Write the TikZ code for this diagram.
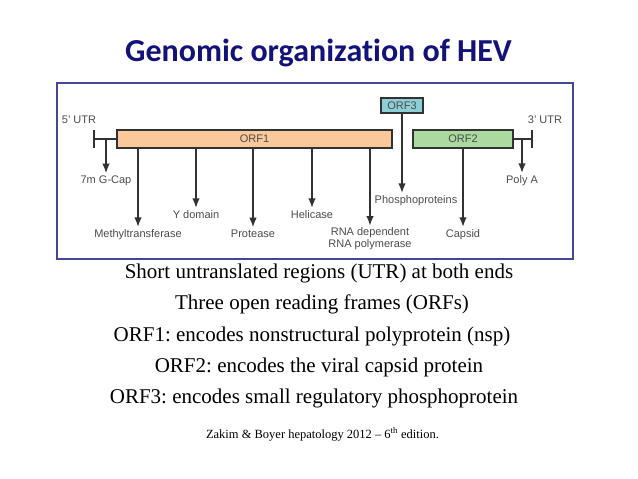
\documentclass[tikz,border=0pt]{standalone}
\usepackage{fontspec}
\setmainfont{Liberation Serif}
\newfontfamily\titlefont[Ligatures=NoCommon]{Carlito}
\newfontfamily\labelfont{Liberation Sans}
\usetikzlibrary{arrows.meta}
\definecolor{titleblue}{RGB}{18,18,120}
\definecolor{framebl}{RGB}{70,70,150}
\definecolor{orfone}{RGB}{250,200,155}
\definecolor{orftwo}{RGB}{172,217,160}
\definecolor{orfthree}{RGB}{142,207,214}
\definecolor{inkgray}{RGB}{50,50,50}
\definecolor{labelgray}{RGB}{75,75,75}
\frenchspacing
\begin{document}
\begin{tikzpicture}[x=1pt, y=-1pt,
  orfbox/.style={draw=inkgray, line width=1.1pt, inner sep=0pt, font=\labelfont\fontsize{11}{12}\selectfont, text=labelgray},
  gene/.style={font=\labelfont\fontsize{11}{10}\selectfont, text=labelgray, inner sep=2pt, anchor=base, align=center},
  arr/.style={-{Latex[length=9.5pt,width=7.5pt]}, line width=1.4pt, draw=inkgray},
  utr/.style={line width=1.3pt, draw=inkgray},
  bodytext/.style={font=\fontsize{21}{25}\selectfont, anchor=base}]
\useasboundingbox (0,0) rectangle (638,479);
\node[font=\titlefont\bfseries\fontsize{32}{36}\selectfont, text=titleblue, anchor=base] (title) at (318.5,61) {Genomic organization of HEV};
\draw[framebl, line width=1.3pt] (57,83) rectangle (573,259);
% genome
\node[orfbox, fill=orfone, minimum width=275pt, minimum height=18pt] (orf1) at (254.5,139) {ORF1};
\node[orfbox, fill=orftwo, minimum width=100pt, minimum height=18pt] (orf2) at (463,139) {ORF2};
\node[orfbox, fill=orfthree, minimum width=42pt, minimum height=15pt] (orf3) at (402,105.5) {ORF3};
\coordinate (utr5) at (94,139);
\coordinate (utr3) at (532,139);
\draw[utr] (utr5) -- (orf1.west);
\draw[utr] (utr5) ++(0,-9) -- ++(0,18);
\draw[utr] (orf2.east) -- (utr3);
\draw[utr] (utr3) ++(0,-9) -- ++(0,18);
\node[gene] (utrfive) at (79,123) {5’ UTR};
\node[gene] (utrthree) at (545,123) {3’ UTR};
% products
\node[gene] (gcap) at (106,183) {7m G-Cap};
\node[gene] (polya) at (522,183) {Poly A};
\node[gene] (methyl) at (138,237) {Methyltransferase};
\node[gene] (ydom) at (196,218) {Y domain};
\node[gene] (protease) at (253,237) {Protease};
\node[gene] (helicase) at (312,218) {Helicase};
\node[gene] (rdrp) at (370,247) {RNA dependent\\RNA polymerase};
\node[gene] (phospho) at (416,203) {Phosphoproteins};
\node[gene] (capsid) at (463,237) {Capsid};
\coordinate (capfoot) at (106,140);
\coordinate (polyfoot) at (522,140);
\draw[arr] (capfoot) -- (gcap.north);
\draw[arr] (polyfoot) -- (polya.north);
\draw[arr] (methyl |- orf1.south) -- (methyl.north);
\draw[arr] (ydom |- orf1.south) -- (ydom.north);
\draw[arr] (protease |- orf1.south) -- (protease.north);
\draw[arr] (helicase |- orf1.south) -- (helicase.north);
\draw[arr] (rdrp |- orf1.south) -- (rdrp.north);
\draw[arr] (orf3.south) -- (orf3.south |- phospho.north);
\draw[arr] (orf2.south) -- (capsid.north);
% notes
\node[bodytext] (note1) at (319,278) {Short untranslated regions (UTR) at both ends};
\node[bodytext] (note2) at (322,309) {Three open reading frames (ORFs)};
\node[bodytext] (note3) at (312,341) {ORF1: encodes nonstructural polyprotein (nsp)};
\node[bodytext] (note4) at (319,372) {ORF2: encodes the viral capsid protein};
\node[bodytext] (note5) at (314,403) {ORF3: encodes small regulatory phosphoprotein};
\node[font=\fontsize{12.5}{15}\selectfont, anchor=base] (source) at (322.5,438) {Zakim \& Boyer hepatology 2012 – 6\textsuperscript{th} edition.};
\end{tikzpicture}
\end{document}
